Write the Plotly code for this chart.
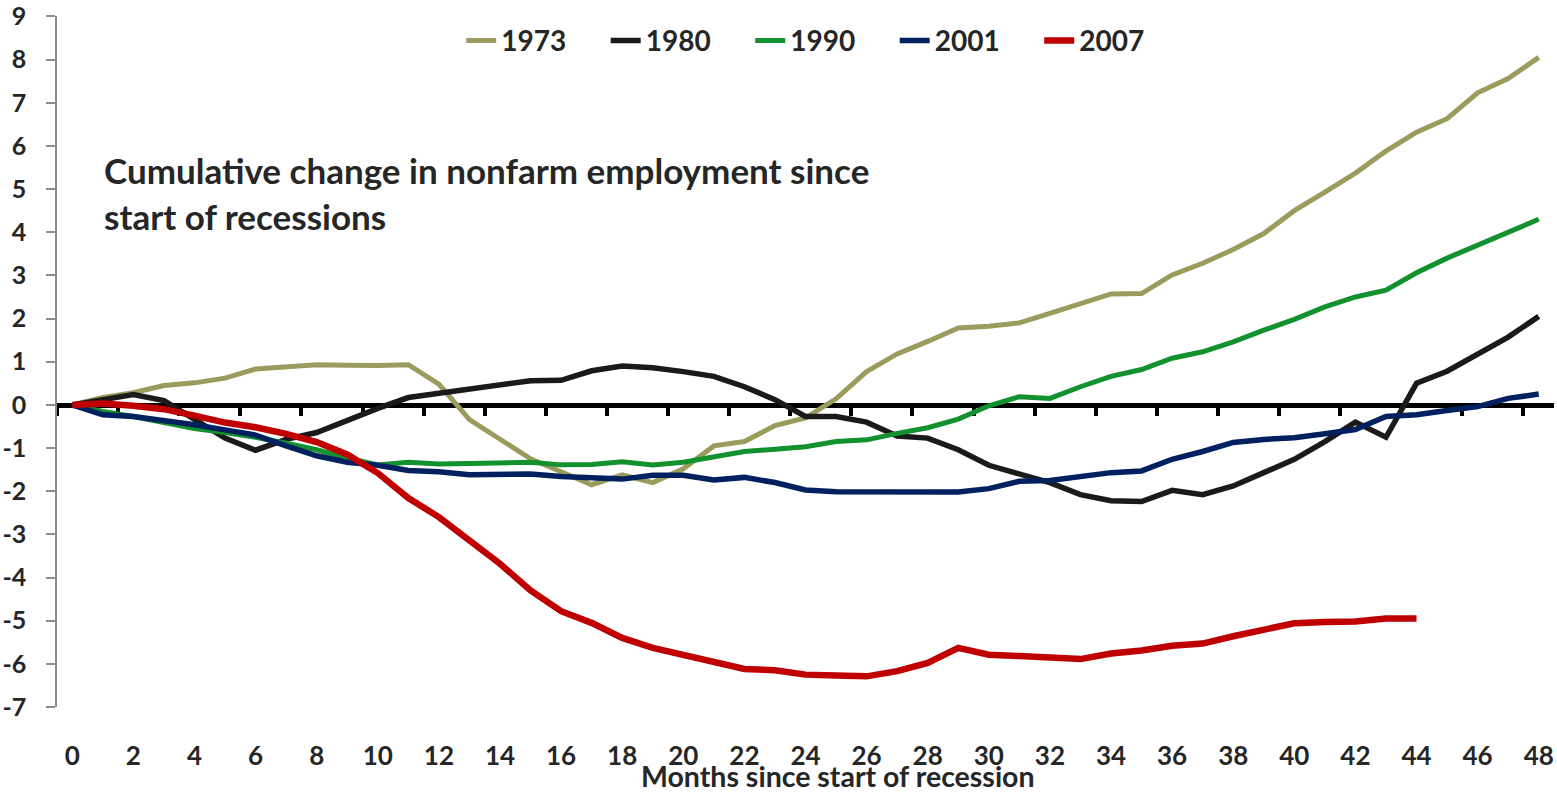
import plotly.graph_objects as go

# months since start of recession
months = list(range(0, 49))
months_2007 = list(range(0, 45))

# cumulative change in nonfarm employment (%)
y1973 = [0, 0.17, 0.28, 0.45, 0.51, 0.62, 0.83, 0.89, 0.93, 0.92, 0.91,
         0.93, 0.48, -0.34, -0.78, -1.25, -1.55, -1.85, -1.62, -1.80, -1.48,
         -0.95, -0.85, -0.48, -0.30, 0.14, 0.77, 1.18, 1.47, 1.78, 1.82,
         1.90, 2.12, 2.34, 2.57, 2.58, 3.01, 3.28, 3.60, 3.97, 4.50,
         4.93, 5.37, 5.88, 6.32, 6.63, 7.23, 7.56, 8.05]
y1980 = [0, 0.13, 0.24, 0.10, -0.35, -0.77, -1.05, -0.80, -0.64, -0.35, -0.08,
         0.17, 0.27, 0.35, 0.47, 0.56, 0.57, 0.79, 0.90, 0.86, 0.77,
         0.66, 0.42, 0.12, -0.27, -0.27, -0.40, -0.72, -0.77, -1.04, -1.40,
         -1.60, -1.80, -2.08, -2.22, -2.24, -1.98, -2.08, -1.88, -1.57, -1.26,
         -0.85, -0.40, -0.75, 0.50, 0.78, 1.18, 1.57, 2.05]
y1990 = [0, -0.15, -0.27, -0.42, -0.55, -0.64, -0.75, -0.89, -1.04, -1.23, -1.39,
         -1.33, -1.37, -1.36, -1.34, -1.33, -1.39, -1.38, -1.32, -1.39, -1.33,
         -1.20, -1.08, -1.03, -0.97, -0.85, -0.81, -0.66, -0.53, -0.33, -0.02,
         0.19, 0.15, 0.42, 0.66, 0.82, 1.08, 1.23, 1.46, 1.73, 1.98,
         2.27, 2.50, 2.66, 3.06, 3.40, 3.70, 3.98, 4.30]
y2001 = [0, -0.23, -0.27, -0.36, -0.46, -0.58, -0.70, -0.95, -1.18, -1.33, -1.40,
         -1.52, -1.55, -1.62, -1.62, -1.60, -1.66, -1.68, -1.72, -1.63, -1.63,
         -1.74, -1.68, -1.80, -1.97, -2.01, -2.01, -2.01, -1.99, -2.02, -1.94,
         -1.77, -1.75, -1.66, -1.57, -1.53, -1.26, -1.08, -0.87, -0.80, -0.76,
         -0.67, -0.57, -0.27, -0.23, -0.13, -0.04, 0.15, 0.25]
y2007 = [0, 0.03, -0.02, -0.10, -0.25, -0.41, -0.52, -0.67, -0.86, -1.15, -1.58,
         -2.16, -2.60, -3.15, -3.68, -4.30, -4.78, -5.05, -5.40, -5.63, -5.79,
         -5.96, -6.12, -6.15, -6.25, -6.27, -6.29, -6.17, -5.98, -5.63, -5.79,
         -5.82, -5.87, -5.89, -5.76, -5.69, -5.58, -5.53, -5.36, -5.21, -5.06,
         -5.03, -5.02, -4.95, -4.95]

series = [
    ("1973", months, y1973, "#9C9B5E", 5),
    ("1980", months, y1980, "#1A1A1A", 5.5),
    ("1990", months, y1990, "#12912F", 5),
    ("2001", months, y2001, "#002060", 5.5),
    ("2007", months_2007, y2007, "#C00000", 6.5),
]

x_labels = list(range(0, 49, 2))
tick_marks = [m - 0.5 for m in range(0, 49, 2)]  # category boundaries
y_ticks = list(range(-7, 10))
y_ticktext = [str(v) for v in y_ticks]  # plain hyphen, like the original

FONT = "Lato"
TXT = "#262626"

fig = go.Figure()
for name, xs, ys, color, w in series:
    fig.add_trace(go.Scatter(x=xs, y=ys, mode="lines", name=name,
                             line=dict(color=color, width=w)))

# dummy trace so the label axis at the bottom is drawn
fig.add_trace(go.Scatter(x=x_labels, y=[None] * len(x_labels), xaxis="x2",
                         showlegend=False, hoverinfo="skip"))

fig.update_layout(
    width=1557, height=793,
    margin=dict(l=57, r=3, t=16, b=86),
    paper_bgcolor="white", plot_bgcolor="white",
    font=dict(family=FONT, color=TXT),
    showlegend=True,
    legend=dict(orientation="h", x=0.270, xanchor="left", y=0.964, yanchor="middle",
                font=dict(size=28, weight="bold", color=TXT),
                entrywidth=99.5, entrywidthmode="pixels",
                bgcolor="rgba(0,0,0,0)"),
    # zero line with tick marks between categories
    xaxis=dict(range=[-0.5, 48.5], anchor="free", position=7 / 16.01,
               showline=True, linecolor="black", linewidth=5,
               ticks="outside", tickvals=tick_marks, ticklen=8, tickwidth=4,
               tickcolor="black", showticklabels=False, automargin=False,
               showgrid=False, zeroline=False, layer="below traces"),
    # labels at the bottom
    xaxis2=dict(range=[-0.5, 48.5], overlaying="x", anchor="y", side="bottom",
                tickvals=x_labels, ticktext=[str(v) for v in x_labels],
                showline=False, ticks="", showgrid=False, zeroline=False,
                ticklabelstandoff=31, automargin=False,
                tickfont=dict(size=26, weight="bold", color=TXT)),
    yaxis=dict(range=[-7, 9.01], tickvals=y_ticks, ticktext=y_ticktext,
               showgrid=False, zeroline=False,
               showline=True, linecolor="#8C8C8C", linewidth=1.5,
               ticks="outside", ticklen=9, tickwidth=1.5, tickcolor="#8C8C8C",
               ticklabelstandoff=15, automargin=False,
               tickfont=dict(size=25, weight="bold", color=TXT)),
    annotations=[
        dict(text="Cumulative change in nonfarm employment since<br>start of recessions",
             xref="paper", yref="paper", x=(102 - 57) / 1497, y=(707 - 193) / 691,
             xanchor="left", yanchor="middle", align="left", showarrow=False,
             font=dict(size=35, weight="bold", color=TXT)),
        dict(text="Months since start of recession",
             xref="paper", yref="paper", x=(838 - 57) / 1497, y=-(776 - 707) / 691,
             xanchor="center", yanchor="middle", showarrow=False,
             font=dict(size=28.5, weight="bold", color=TXT)),
    ],
)

# drop the browser's default page margin so the figure sits at the top-left corner
fig.write_html("out.html", config={"displayModeBar": False},
               post_script="document.body.style.margin='0';")
